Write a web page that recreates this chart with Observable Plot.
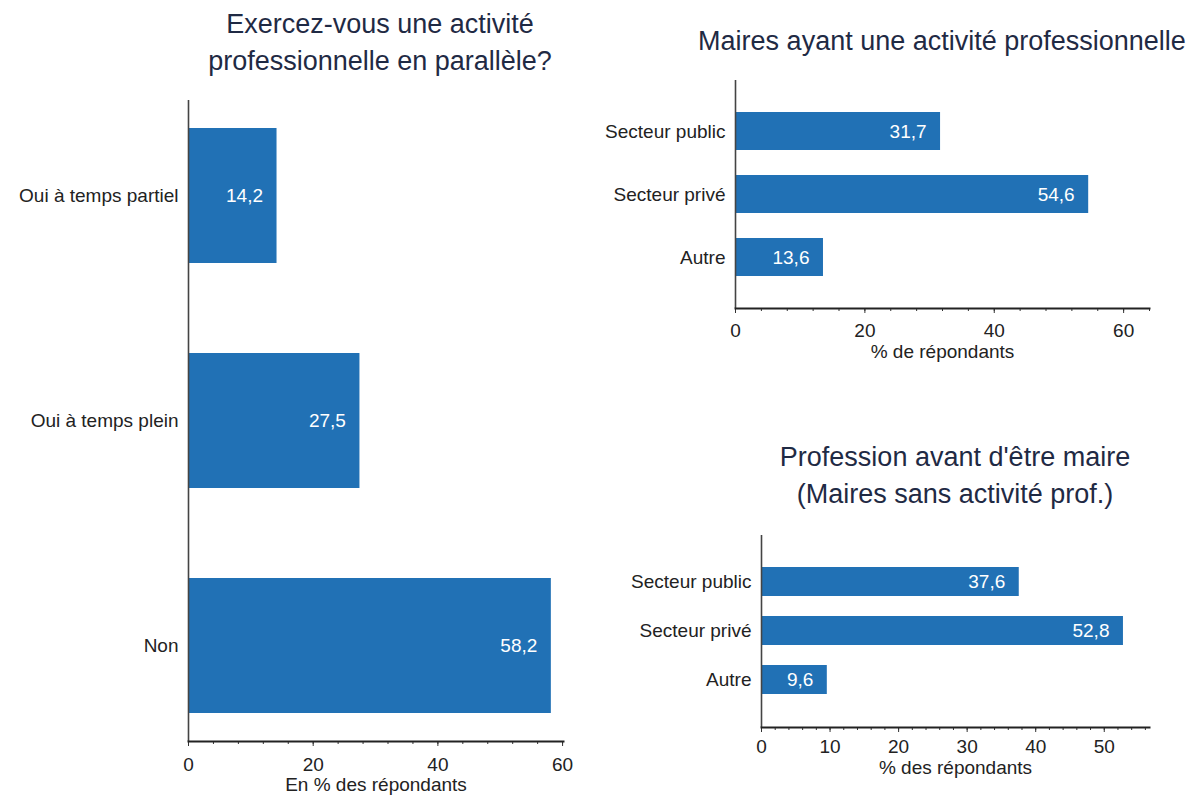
<!DOCTYPE html>
<html>
<head>
<meta charset="utf-8">
<script src="https://cdn.jsdelivr.net/npm/d3@7"></script>
<script src="https://cdn.jsdelivr.net/npm/@observablehq/plot@0.6"></script>
<style>
  html, body { margin: 0; padding: 0; background: #fff; }
  #root { position: relative; width: 1200px; height: 796px; overflow: hidden; font-family: "Liberation Sans", Arial, sans-serif; }
  .panel { position: absolute; }
  .title { position: absolute; text-align: center; color: #1f2a44; font-size: 27px; line-height: 37px; white-space: nowrap; transform: translateX(-50%); }
</style>
</head>
<body>
<div id="root"></div>
<script>
// ---- Data ----
const q1Categories = ["Oui à temps partiel", "Oui à temps plein", "Non"];
const q1Values = [14.2, 27.5, 58.2];
const q1Title = ["Exercez-vous une activité", "professionnelle en parallèle?"];
const q1AxisLabel = "En % des répondants";
const q1Ticks = [0, 20, 40, 60];

const q2Categories = ["Secteur public", "Secteur privé", "Autre"];
const q2Values = [31.7, 54.6, 13.6];
const q2Title = ["Maires ayant une activité professionnelle"];
const q2AxisLabel = "% de répondants";
const q2Ticks = [0, 20, 40, 60];

const q3Categories = ["Secteur public", "Secteur privé", "Autre"];
const q3Values = [37.6, 52.8, 9.6];
const q3Title = ["Profession avant d'être maire", "(Maires sans activité prof.)"];
const q3AxisLabel = "% des répondants";
const q3Ticks = [0, 10, 20, 30, 40, 50];

const barColor = "#2171b5";
const FS = 19;
const fmt = v => v.toFixed(1).replace(".", ",");

function barChart({cats, vals, axisLabel, ticks, minorStep, xMax, width, height, mt, mb, ml, mr, pInner, pOuter, tickPad, labelDy}) {
  const data = cats.map((c, i) => ({cat: c, value: vals[i]}));
  const minor = d3.range(0, xMax + 0.001, minorStep);
  return Plot.plot({
    width, height,
    marginTop: mt, marginBottom: mb, marginLeft: ml, marginRight: mr,
    style: {fontFamily: "Liberation Sans, Arial, sans-serif", fontSize: FS + "px", color: "#222", background: "white", overflow: "visible"},
    x: {domain: [0, xMax], label: null},
    y: {domain: cats, paddingInner: pInner, paddingOuter: pOuter, label: null},
    marks: [
      Plot.barX(data, {x: "value", y: "cat", fill: barColor}),
      Plot.text(data, {x: "value", y: "cat", text: d => fmt(d.value), textAnchor: "end", dx: -14, fill: "white", fontSize: FS}),
      Plot.axisY({tickSize: 0, tickPadding: 10, fontSize: FS, fill: "#222", label: null}),
      Plot.axisX({ticks: minor, tickSize: 3, tickFormat: () => "", stroke: "#333", label: null}),
      Plot.axisX({ticks: ticks, tickSize: 5, tickPadding: tickPad, fontSize: FS, fill: "#222", stroke: "#333", label: null}),
      Plot.ruleX([0], {stroke: "#444", strokeWidth: 1.6}),
      Plot.frame({anchor: "bottom", stroke: "#222", strokeWidth: 2}),
      Plot.text([axisLabel], {frameAnchor: "bottom", dy: labelDy, fontSize: FS, fill: "#222"})
    ]
  });
}

const root = document.getElementById("root");

function addPanel(svg, left, top) {
  const d = document.createElement("div");
  d.className = "panel";
  d.style.left = left + "px";
  d.style.top = top + "px";
  d.appendChild(svg);
  root.appendChild(d);
}
function addTitle(lines, cx, top) {
  const d = document.createElement("div");
  d.className = "title";
  d.style.left = cx + "px";
  d.style.top = top + "px";
  d.innerHTML = lines.map(l => l.replace(/&/g, "&amp;").replace(/</g, "&lt;")).join("<br>");
  root.appendChild(d);
}

addPanel(barChart({cats: q1Categories, vals: q1Values, axisLabel: q1AxisLabel, ticks: q1Ticks, minorStep: 4, xMax: 60.15,
  width: 600, height: 796, mt: 100, mb: 55, ml: 188, mr: 37, pInner: 0.4, pOuter: 0.12, tickPad: 11, labelDy: 49}), 0, 0);

addPanel(barChart({cats: q2Categories, vals: q2Values, axisLabel: q2AxisLabel, ticks: q2Ticks, minorStep: 4, xMax: 64,
  width: 600, height: 380, mt: 80, mb: 72, ml: 135, mr: 51, pInner: 0.4, pOuter: 0.5, tickPad: 10, labelDy: 49}), 600, 0);

addPanel(barChart({cats: q3Categories, vals: q3Values, axisLabel: q3AxisLabel, ticks: q3Ticks, minorStep: 2, xMax: 56.6,
  width: 600, height: 396, mt: 135, mb: 69, ml: 161, mr: 51, pInner: 0.4, pOuter: 0.63, tickPad: 7, labelDy: 46}), 600, 400);

addTitle(q1Title, 380, 6);
addTitle(q2Title, 942, 23);
addTitle(q3Title, 955, 439);
</script>
</body>
</html>
